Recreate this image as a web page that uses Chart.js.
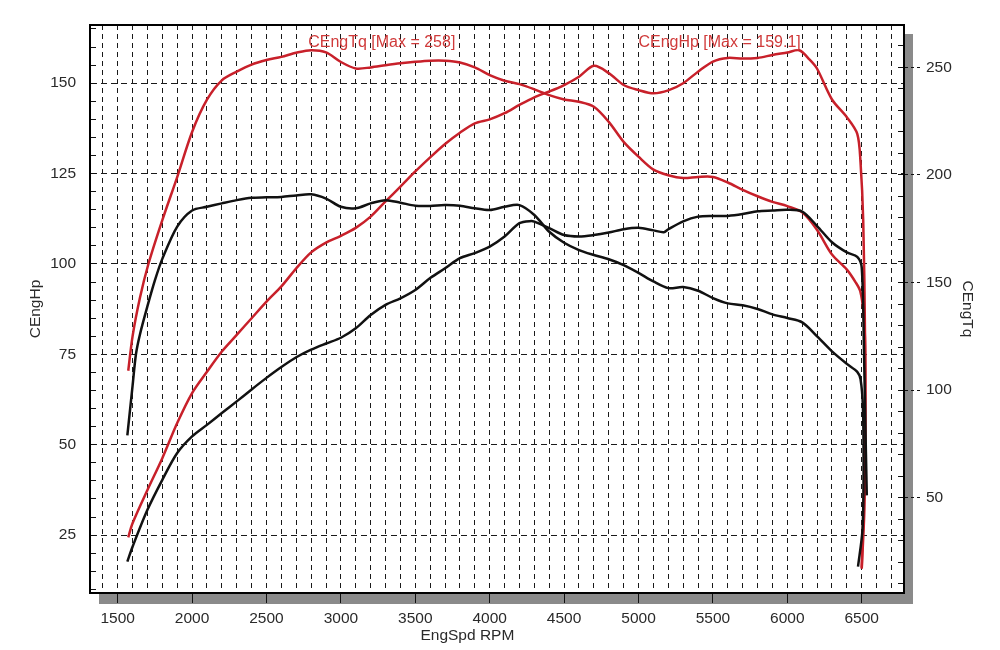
<!DOCTYPE html>
<html>
<head>
<meta charset="utf-8">
<script src="https://cdn.jsdelivr.net/npm/chart.js@4.4.1/dist/chart.umd.min.js"></script>
<style>
html,body{margin:0;padding:0;background:#fff;}
canvas{display:block;}
</style>
</head>
<body>
<canvas id="c" width="1000" height="650"></canvas>
<script>
// ---- tick labels ----
const rpmLabels = [1500, 2000, 2500, 3000, 3500, 4000, 4500, 5000, 5500, 6000, 6500];
const hpLabels = [25, 50, 75, 100, 125, 150];
const tqLabels = [50, 100, 150, 200, 250];

// ---- series: red run, torque (right axis) ----
const redTqRpm = [1571,1600,1650,1706,1800,1900,2000,2100,2200,2300,2400,2500,2600,2700,2800,2900,3000,3100,3200,3300,3400,3500,3600,3700,3800,3900,4000,4100,4200,4300,4400,4500,4600,4700,4800,4900,5000,5100,5200,5300,5400,5500,5600,5700,5800,5900,6000,6100,6200,6300,6400,6460,6490,6512,6523,6524,6518,6500];
const redTqVal = [109,125,143,158.5,179,199,220,235,244,248,251.3,253.4,254.9,256.8,258,257,252.5,249.5,250,251,251.9,252.6,253.1,253.1,252.3,250,246.4,243.8,242.2,239.8,237.1,235.1,234,231.7,224.7,215.4,208.5,202.5,199.9,198.6,199.1,199.1,196.5,193.1,190.1,187.5,185.5,182.6,174.4,163,156,150,146,136,120,80,45,17];

// ---- series: red run, power (left axis) ----
const redHpRpm = [1571,1600,1700,1800,1900,2000,2100,2200,2300,2400,2500,2600,2700,2800,2900,3000,3100,3200,3300,3400,3500,3600,3700,3800,3900,4000,4100,4200,4300,4400,4500,4600,4700,4800,4900,5000,5100,5200,5300,5400,5500,5600,5700,5800,5900,6000,6080,6150,6200,6300,6400,6470,6492,6510,6522,6522,6500];
const redHpVal = [24.4,28.3,37.5,46.3,56,64.3,70.2,75.8,80.4,85,89.6,93.8,98.8,103.2,105.9,107.8,110,113.1,117.3,121.4,125.6,129.5,133.2,136.3,138.9,140,141.7,144,146.1,147.7,149.5,151.8,154.8,152.8,149.5,148.1,147.2,148,150,153.2,156,157,156.8,157,157.8,158.5,159.1,156.5,154,145.5,140.6,136,128,112,80,48,16];

// ---- series: black run, torque (right axis) ----
const blkTqRpm = [1565,1600,1623,1650,1700,1750,1800,1900,2000,2100,2200,2300,2400,2500,2600,2700,2800,2900,3000,3100,3200,3300,3400,3500,3600,3700,3800,3900,4000,4100,4200,4300,4400,4500,4600,4700,4800,4900,5000,5100,5200,5300,5400,5500,5600,5700,5800,5900,6000,6100,6200,6300,6400,6470,6492,6508,6512,6505,6475];
const blkTqVal = [79,102,116.8,126,139,151,161,176,183.5,185.2,186.8,188.3,189.4,189.6,189.8,190.5,191,189,185.2,184.5,186.8,188.3,187.1,185.7,185.6,186,185.7,184.5,183.7,185.2,186,181.4,173.6,168.5,165.1,162.8,160.8,158.1,154.5,150.5,147.4,147.9,146.2,142.8,140.3,139.4,137.7,135.2,133.5,131.5,125,118,112.2,108.5,105,92,60,35,18];

// ---- series: black run, power (left axis) ----
const blkHpRpm = [1565,1600,1700,1800,1900,2000,2100,2200,2300,2400,2500,2600,2700,2800,2900,3000,3100,3200,3300,3400,3500,3600,3700,3800,3900,4000,4100,4200,4280,4300,4400,4500,4600,4700,4800,4900,5000,5100,5170,5200,5300,5400,5500,5600,5700,5800,5900,6000,6100,6200,6300,6400,6470,6500,6515,6528,6534];
const blkHpVal = [17.7,21.8,32,40.3,47.7,52.3,55.5,58.8,62,65.3,68.5,71.5,74.2,76.3,78,79.6,82.2,85.9,88.7,90.5,92.8,96.1,98.8,101.6,103,104.8,107.6,111.3,111.9,111.7,109.9,108,107.6,108,108.7,109.6,110,109.3,108.8,109.6,111.8,113.1,113.3,113.3,113.8,114.6,114.8,115,114.5,110.5,106,103.2,102,99,76,48,36];

const FONT = 'Liberation Sans, Arial, Helvetica, sans-serif';
const TXT = '#2a2a2a';
const RED = '#c8202a';
const BLK = '#111111';

const pts = (xs, ys) => xs.map((x, i) => ({x: x, y: ys[i]}));
const range = (a, b, s) => { const r = []; for (let v = a; v <= b + 1e-9; v += s) r.push(v); return r; };

const rpmGrid = range(1400, 6700, 100);
const hpMinor = range(10, 165, 5);
const tqMinor = range(10, 260, 10);

const framePlugin = {
  id: 'frame',
  beforeDraw(chart) {
    const {ctx, chartArea: a} = chart;
    ctx.save();
    ctx.fillStyle = '#fff';
    ctx.fillRect(0, 0, chart.width, chart.height);
    ctx.fillStyle = '#8a8a8a';
    ctx.fillRect(a.right, a.top + 9, 9, a.bottom - a.top + 2);
    ctx.fillRect(a.left + 9, a.bottom, a.right - a.left, 11);
    ctx.restore();
  },
  afterDraw(chart) {
    const {ctx, chartArea: a, scales} = chart;
    ctx.save();
    ctx.strokeStyle = '#000';
    ctx.lineWidth = 2;
    ctx.strokeRect(a.left, a.top, a.right - a.left, a.bottom - a.top);
    // series captions
    ctx.font = '16px ' + FONT;
    ctx.fillStyle = '#d03a3a';
    ctx.textBaseline = 'middle';
    ctx.textAlign = 'left';
    ctx.fillText('CEngTq [Max = 258]', scales.x.getPixelForValue(2780), a.top + 18);
    ctx.textAlign = 'right';
    ctx.fillText('CEngHp [Max = 159.1]', scales.x.getPixelForValue(6090), a.top + 18);
    // x axis title
    ctx.font = '15.5px ' + FONT;
    ctx.fillStyle = TXT;
    ctx.textAlign = 'center';
    ctx.fillText('EngSpd RPM', scales.x.getPixelForValue(3850), chart.height - 14);
    ctx.restore();
  }
};

const tickFont = {family: FONT, size: 15.5};

new Chart(document.getElementById('c'), {
  type: 'line',
  data: {
    datasets: [
      {label: 'CEngTq black', data: pts(blkTqRpm, blkTqVal), yAxisID: 'y3', borderColor: BLK},
      {label: 'CEngHp black', data: pts(blkHpRpm, blkHpVal), yAxisID: 'y', borderColor: BLK},
      {label: 'CEngTq', data: pts(redTqRpm, redTqVal), yAxisID: 'y3', borderColor: RED},
      {label: 'CEngHp', data: pts(redHpRpm, redHpVal), yAxisID: 'y', borderColor: RED}
    ]
  },
  options: {
    responsive: false,
    animation: false,
    devicePixelRatio: 1,
    layout: {padding: {top: 25, left: 0, right: 0, bottom: 0}},
    plugins: {legend: {display: false}, tooltip: {enabled: false}},
    elements: {
      point: {radius: 0},
      line: {borderWidth: 2.5, tension: 0.3, fill: false}
    },
    scales: {
      x: {
        type: 'linear', position: 'bottom', min: 1314, max: 6784,
        afterBuildTicks: s => { s.ticks = rpmGrid.map(v => ({value: v})); },
        afterFit: s => { s.height = 57; s.paddingLeft = 0; s.paddingRight = 0; },
        ticks: {
          autoSkip: false, maxRotation: 0, minRotation: 0, padding: 6,
          font: tickFont, color: TXT,
          callback: v => rpmLabels.includes(v) ? String(v) : ''
        },
        grid: {
          color: '#1a1a1a', lineWidth: 1, tickLength: 10,
          tickColor: c => (c.tick && rpmLabels.includes(c.tick.value)) ? '#111' : 'rgba(0,0,0,0)'
        },
        border: {display: true, color: '#000', width: 2, dash: [5, 4]}
      },
      y: {
        type: 'linear', position: 'left', min: 9, max: 166.1,
        afterBuildTicks: s => { s.ticks = hpMinor.map(v => ({value: v})); },
        afterFit: s => { s.width = 90; s.paddingTop = 0; s.paddingBottom = 0; },
        ticks: {
          autoSkip: false, padding: 20, font: tickFont, color: TXT,
          callback: v => hpLabels.includes(v) ? String(v) : ''
        },
        grid: {
          color: c => (c.tick && hpLabels.includes(c.tick.value)) ? '#1a1a1a' : 'rgba(0,0,0,0)',
          lineWidth: 1, tickLength: -6, tickColor: '#111'
        },
        border: {display: true, color: '#000', width: 2, dash: [6, 4]},
        title: {display: true, text: 'CEngHp', color: TXT, font: {family: FONT, size: 15.5}, padding: {top: 26, bottom: 0}}
      },
      y2: {
        type: 'linear', position: 'right', min: 5.7, max: 269.7,
        afterBuildTicks: s => { s.ticks = tqMinor.map(v => ({value: v})); },
        afterFit: s => { s.width = 0; s.paddingTop = 0; s.paddingBottom = 0; },
        ticks: {display: false},
        grid: {drawOnChartArea: false, tickLength: -6, tickColor: '#111'},
        border: {display: false}
      },
      y3: {
        type: 'linear', position: 'right', min: 5.7, max: 269.7,
        afterBuildTicks: s => { s.ticks = tqLabels.map(v => ({value: v})); },
        afterFit: s => { s.width = 96; s.paddingTop = 0; s.paddingBottom = 0; },
        ticks: {autoSkip: false, padding: 6, font: tickFont, color: TXT},
        grid: {drawOnChartArea: false, tickLength: 16, tickColor: '#111', tickBorderDash: [3, 3], tickWidth: 1},
        border: {display: true, color: '#000', width: 2},
        title: {display: true, text: 'CEngTq', color: TXT, font: {family: FONT, size: 15.5}, padding: {top: 23, bottom: 0}}
      }
    }
  },
  plugins: [framePlugin]
});
</script>
</body>
</html>
